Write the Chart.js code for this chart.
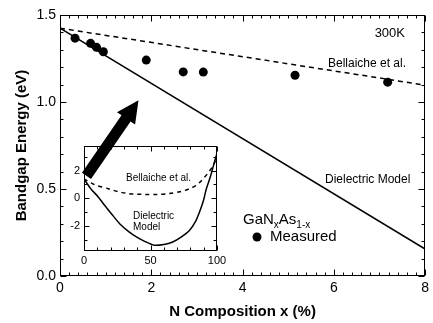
<!DOCTYPE html>
<html><head><meta charset="utf-8">
<script src="https://cdn.jsdelivr.net/npm/chart.js@4.4.1/dist/chart.umd.min.js"></script>
<style>
html,body{margin:0;padding:0;background:#fff;}
#wrap{position:relative;width:433px;height:323px;overflow:hidden;}
#main{position:absolute;left:0;top:0;z-index:2;}
#inset{position:absolute;left:60px;top:135px;z-index:1;}
</style></head><body>
<div id="wrap"><canvas id="inset" width="170" height="135"></canvas><canvas id="main" width="433" height="323"></canvas></div>
<script>
// ---- main chart data ----
const measuredX = [0.33, 0.67, 0.80, 0.95, 1.89, 2.70, 3.14, 5.15, 7.18];
const measuredY = [1.367, 1.337, 1.314, 1.289, 1.241, 1.173, 1.172, 1.154, 1.114];
const dielectricX = [0, 8];
const dielectricY = [1.424, 0.155];
const bellaicheX = [0, 8];
const bellaicheY = [1.424, 1.097];
const mainXTicks = [0, 2, 4, 6, 8];
const mainYTicks = [0, 0.5, 1.0, 1.5];
// ---- inset data (full composition range, %) ----
const insetDielX = [0, 5, 10.7, 15, 20.9, 27, 33.6, 40, 46, 52.7, 60, 66.7, 73, 79.4, 84, 87, 90, 92, 95, 97.2, 100];
const insetDielY = [1.40, 0.70, 0.10, -0.45, -1.15, -1.85, -2.40, -2.82, -3.12, -3.38, -3.33, -3.15, -2.80, -2.30, -1.65, -0.95, -0.10, 0.69, 1.55, 2.30, 3.25];
const insetBellX = [0, 8, 18.3, 26, 33.6, 40, 46, 55, 64, 72, 79.4, 84, 87, 90, 93.4, 96, 98.5, 100];
const insetBellY = [1.40, 0.98, 0.69, 0.47, 0.34, 0.30, 0.28, 0.28, 0.34, 0.47, 0.69, 0.92, 1.15, 1.45, 1.84, 2.20, 2.64, 3.10];
const insetXTicks = [0, 50, 100];
const insetYTicks = [-2, 0, 2];

const FONT = "'Liberation Sans', Arial, Helvetica, sans-serif";
const pts = (xs, ys) => xs.map((x, i) => ({x, y: ys[i]}));

function frameTicks(xMinor, xMajor, yMinor, yMajor, minorLen, majorLen) {
  return {
    id: 'frameTicks',
    afterDatasetsDraw(chart) {
      const {ctx, chartArea: a, scales: {x, y}} = chart;
      ctx.save();
      ctx.strokeStyle = '#000';
      ctx.lineWidth = 1;
      const L = Math.round(a.left) + 0.5, R = Math.round(a.right) - 0.5;
      const T = Math.round(a.top) + 0.5, B = Math.round(a.bottom) - 0.5;
      ctx.strokeRect(L, T, R - L, B - T);
      ctx.beginPath();
      const nx = Math.round((x.max - x.min) / xMinor);
      for (let i = 0; i <= nx; i++) {
        const v = x.min + i * xMinor;
        const px = Math.round(x.getPixelForValue(v)) + 0.5;
        const maj = Math.abs(v / xMajor - Math.round(v / xMajor)) < 1e-6;
        const len = maj ? majorLen : minorLen;
        ctx.moveTo(px, B); ctx.lineTo(px, B - len);
        ctx.moveTo(px, T); ctx.lineTo(px, T + len);
      }
      const y0 = Math.ceil(y.min / yMinor - 1e-9) * yMinor;
      for (let i = 0; i < 1000; i++) {
        const v = y0 + i * yMinor;
        if (v > y.max + 1e-9) break;
        const py = Math.round(y.getPixelForValue(v)) + 0.5;
        const maj = Math.abs(v / yMajor - Math.round(v / yMajor)) < 1e-6;
        const len = maj ? majorLen : minorLen;
        ctx.moveTo(L, py); ctx.lineTo(L + len, py);
        ctx.moveTo(R, py); ctx.lineTo(R - len, py);
      }
      ctx.stroke();
      ctx.restore();
    }
  };
}

const annotations = {
  id: 'annotations',
  afterDraw(chart) {
    const {ctx, scales: {x, y}} = chart;
    ctx.save();
    // arrow (data units on main axes)
    const x0 = x.getPixelForValue(0.58), y0 = y.getPixelForValue(0.575);
    const x1 = x.getPixelForValue(1.72), y1 = y.getPixelForValue(1.01);
    const ang = Math.atan2(y1 - y0, x1 - x0);
    const len = Math.hypot(x1 - x0, y1 - y0);
    ctx.translate(x0, y0); ctx.rotate(ang);
    const sw = 5.5, hl = 22, hw = 11;
    ctx.beginPath();
    ctx.moveTo(0, -sw); ctx.lineTo(len - hl, -sw); ctx.lineTo(len - hl, -hw);
    ctx.lineTo(len, 0); ctx.lineTo(len - hl, hw); ctx.lineTo(len - hl, sw);
    ctx.lineTo(0, sw); ctx.closePath();
    ctx.fillStyle = '#000'; ctx.fill();
    ctx.setTransform(1, 0, 0, 1, 0, 0);
    // texts
    ctx.fillStyle = '#000';
    ctx.textBaseline = 'middle';
    ctx.font = '13px ' + FONT;
    ctx.textAlign = 'right';
    ctx.fillText('300K', 405, 33);
    ctx.font = '12px ' + FONT;
    ctx.fillText('Bellaiche et al.', 406, 64);
    ctx.textAlign = 'left';
    ctx.fillText('Dielectric Model', 325, 180);
    // legend
    let lx = 243, ly = 220;
    ctx.font = '15px ' + FONT;
    ctx.fillText('GaN', lx, ly); lx += ctx.measureText('GaN').width;
    ctx.font = '10px ' + FONT;
    ctx.fillText('x', lx, ly + 5); lx += ctx.measureText('x').width;
    ctx.font = '15px ' + FONT;
    ctx.fillText('As', lx, ly); lx += ctx.measureText('As').width;
    ctx.font = '10px ' + FONT;
    ctx.fillText('1-x', lx, ly + 5);
    ctx.beginPath(); ctx.arc(257, 237, 4.5, 0, Math.PI * 2); ctx.fill();
    ctx.font = '15px ' + FONT;
    ctx.fillText('Measured', 270, 237);
    ctx.restore();
  }
};

new Chart(document.getElementById('main'), {
  type: 'scatter',
  data: {
    datasets: [
      {data: pts(measuredX, measuredY), pointRadius: 4.5, pointBackgroundColor: '#000', pointBorderWidth: 0, showLine: false},
      {data: pts(dielectricX, dielectricY), showLine: true, borderColor: '#000', borderWidth: 1.5, pointRadius: 0, tension: 0},
      {data: pts(bellaicheX, bellaicheY), showLine: true, borderColor: '#000', borderWidth: 1.5, borderDash: [5, 4], pointRadius: 0, tension: 0}
    ]
  },
  options: {
    responsive: false, animation: false, devicePixelRatio: 1,
    layout: {padding: {top: 15, right: 1, left: 0, bottom: 0}},
    plugins: {legend: {display: false}, tooltip: {enabled: false}},
    scales: {
      x: {
        type: 'linear', min: 0, max: 8,
        afterBuildTicks: s => { s.ticks = mainXTicks.map(v => ({value: v})); },
        afterFit: s => { s.height = 47; },
        grid: {display: false, drawTicks: false}, border: {display: false},
        ticks: {color: '#000', font: {family: FONT, size: 14}, padding: 4, maxRotation: 0, callback: v => String(v)},
        title: {display: true, text: 'N Composition x (%)', color: '#000', font: {family: FONT, size: 15, weight: 'bold'}, padding: {top: 0, bottom: 2}}
      },
      y: {
        type: 'linear', min: 0, max: 1.5,
        afterBuildTicks: s => { s.ticks = mainYTicks.map(v => ({value: v})); },
        afterFit: s => { s.width = 60; },
        grid: {display: false, drawTicks: false}, border: {display: false},
        ticks: {color: '#000', font: {family: FONT, size: 14}, padding: 4, callback: v => Number(v).toFixed(1)},
        title: {display: true, text: 'Bandgap Energy (eV)', color: '#000', font: {family: FONT, size: 15, weight: 'bold'}, padding: {top: 13, bottom: 0}}
      }
    }
  },
  plugins: [frameTicks(0.2, 2, 0.1, 0.5, 3, 6), annotations]
});

const insetText = {
  id: 'insetText',
  afterDraw(chart) {
    const {ctx} = chart;
    ctx.save();
    ctx.fillStyle = '#000';
    ctx.textBaseline = 'middle';
    ctx.textAlign = 'left';
    ctx.font = '10px ' + FONT;
    ctx.fillText('Bellaiche et al.', 66, 43);
    ctx.fillText('Dielectric', 73, 81);
    ctx.fillText('Model', 73, 92);
    ctx.restore();
  }
};

new Chart(document.getElementById('inset'), {
  type: 'scatter',
  data: {
    datasets: [
      {data: pts(insetDielX, insetDielY), showLine: true, borderColor: '#000', borderWidth: 1.5, pointRadius: 0, tension: 0.3},
      {data: pts(insetBellX, insetBellY), showLine: true, borderColor: '#000', borderWidth: 1.5, borderDash: [4, 4], pointRadius: 0, tension: 0.3}
    ]
  },
  options: {
    responsive: false, animation: false, devicePixelRatio: 1,
    layout: {padding: {top: 6, right: 13, left: 0, bottom: 0}},
    plugins: {legend: {display: false}, tooltip: {enabled: false}},
    scales: {
      x: {
        type: 'linear', min: 0, max: 100,
        afterBuildTicks: s => { s.ticks = insetXTicks.map(v => ({value: v})); },
        afterFit: s => { s.height = 19; },
        grid: {display: false, drawTicks: false}, border: {display: false},
        ticks: {color: '#000', font: {family: FONT, size: 11}, padding: 3, maxRotation: 0}
      },
      y: {
        type: 'linear', min: -3.8, max: 3.8,
        afterBuildTicks: s => { s.ticks = insetYTicks.map(v => ({value: v})); },
        afterFit: s => { s.width = 24; },
        grid: {display: false, drawTicks: false}, border: {display: false},
        ticks: {color: '#000', font: {family: FONT, size: 11}, padding: 4}
      }
    }
  },
  plugins: [frameTicks(10, 50, 1, 2, 3, 5), insetText]
});
</script>
</body></html>
